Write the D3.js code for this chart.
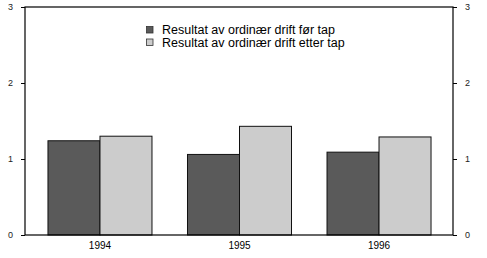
<!DOCTYPE html>
<html><head><meta charset="utf-8">
<script src="https://cdn.jsdelivr.net/npm/d3@7"></script>
<style>body{margin:0;background:#fff}svg{display:block}text{font-family:"Liberation Sans",Arial,sans-serif;fill:#000}</style>
</head><body><svg id="c" width="487" height="258"></svg>
<script>
const years = ["1994","1995","1996"];
const seriesNames = ["Resultat av ordinær drift før tap","Resultat av ordinær drift etter tap"];
const forTap = [1.24, 1.06, 1.09];
const etterTap = [1.30, 1.43, 1.29];
const yTicks = [0,1,2,3];
const colors = ["#5a5a5a","#cccccc"];

const svg = d3.select("#c");
const L=25, R=453, T=7, B=235;
const x = d3.scaleBand().domain(years).range([30.25,448.75]).paddingInner(0.2545).paddingOuter(0.127);
const x1 = d3.scaleBand().domain([0,1]).range([0,x.bandwidth()]);
const y = d3.scaleLinear().domain([0,3]).range([B,T]);

const data = years.map((yr,i)=>({yr, vals:[forTap[i], etterTap[i]]}));
const g = svg.append("g");
g.selectAll("g.grp").data(data).join("g").attr("class","grp")
 .attr("transform",d=>`translate(${x(d.yr)},0)`)
 .selectAll("rect").data(d=>d.vals.map((v,k)=>({v,k}))).join("rect")
 .attr("x",d=>x1(d.k)).attr("width",x1.bandwidth())
 .attr("y",d=>y(d.v)).attr("height",d=>B-y(d.v))
 .attr("fill",d=>colors[d.k]).attr("stroke","#111").attr("stroke-width",1);

// frame
svg.append("rect").attr("x",L).attr("y",T).attr("width",R-L).attr("height",B-T)
 .attr("fill","none").attr("stroke","#000").attr("stroke-width",1.2);

const la = svg.append("g").attr("transform",`translate(${L},0)`).call(d3.axisLeft(y).tickValues(yTicks).tickSize(4).tickPadding(8).tickFormat(d3.format("d")));
const ra = svg.append("g").attr("transform",`translate(${R},0)`).call(d3.axisRight(y).tickValues(yTicks).tickSize(4).tickPadding(8).tickFormat(d3.format("d")));
[la,ra].forEach(a=>{a.select(".domain").remove();a.selectAll("text").style("font-size","9px").style("font-family","Liberation Sans, Arial").style("fill","#222");a.selectAll("line").attr("stroke","#000");});

const xa = svg.append("g").attr("transform",`translate(0,${B})`).call(d3.axisBottom(x).tickSize(0).tickPadding(7));
xa.select(".domain").remove();
xa.selectAll("text").style("font-size","10px").style("font-family","Liberation Sans, Arial");

const leg = svg.append("g").attr("transform","translate(146,26)");
seriesNames.forEach((n,i)=>{
  const r = leg.append("g").attr("transform",`translate(0,${i*12.5})`);
  r.append("rect").attr("x",0.5).attr("y",0.5).attr("width",6.5).attr("height",6.5).attr("fill",colors[i]).attr("stroke","#333").attr("stroke-width",0.8);
  r.append("text").attr("x",16).attr("y",8).style("font-size","12.5px").text(n);
});
</script></body></html>
